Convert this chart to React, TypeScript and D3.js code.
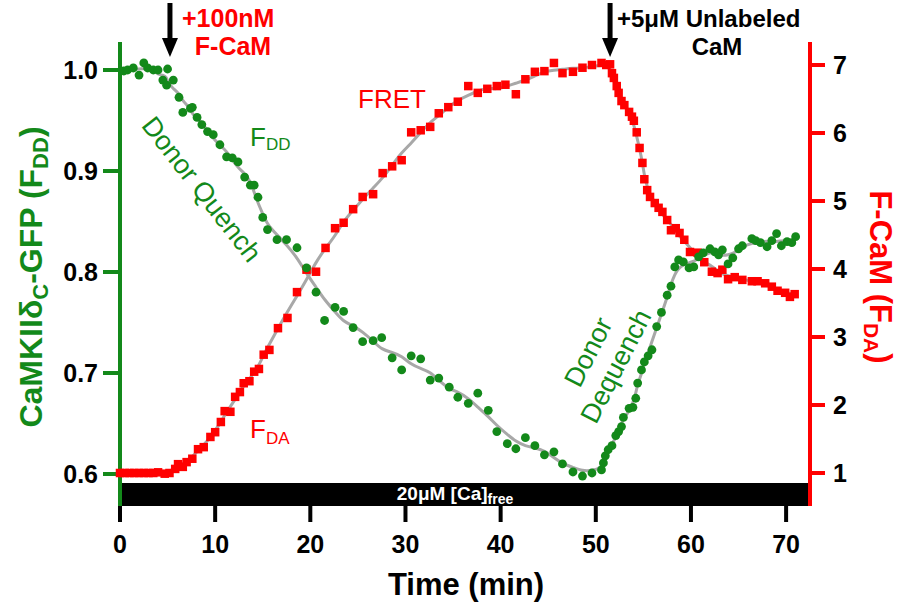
import React from "react";
import * as d3 from "d3";

// F_DD (donor, green circles): [time (min), normalised intensity]
const fddPoints: [number, number][] = [
  [0.4, 0.999], [0.8, 1.0], [1.4, 1.002], [2.0, 0.995], [2.5, 1.007], [2.9, 1.002],
  [3.5, 1.0], [4.0, 1.0], [4.5, 0.99], [4.9, 0.985], [5.0, 1.001], [5.6, 0.99],
  [6.2, 0.973], [6.6, 0.958], [7.4, 0.962], [7.6, 0.963], [8.1, 0.953], [8.6, 0.946],
  [9.2, 0.939], [9.8, 0.936], [10.5, 0.926], [11.2, 0.914], [11.8, 0.913], [12.4, 0.909],
  [13.1, 0.894], [13.7, 0.886], [14.1, 0.886], [14.5, 0.874], [15.0, 0.854], [15.5, 0.842],
  [16.5, 0.832], [17.5, 0.832], [18.6, 0.824], [19.6, 0.804], [20.6, 0.78], [21.5, 0.752],
  [22.6, 0.765], [23.5, 0.761], [24.5, 0.745], [25.5, 0.731], [26.6, 0.732], [27.5, 0.735],
  [28.6, 0.715], [29.6, 0.703], [30.6, 0.717], [31.6, 0.714], [32.6, 0.693], [33.5, 0.695],
  [34.6, 0.686], [35.5, 0.676], [36.6, 0.67], [37.6, 0.68], [38.7, 0.663], [39.6, 0.642],
  [40.7, 0.63], [41.6, 0.625], [42.6, 0.636], [43.6, 0.628], [44.6, 0.619], [45.6, 0.622],
  [46.5, 0.61], [47.6, 0.602], [48.6, 0.598], [49.6, 0.601], [50.6, 0.604], [50.8, 0.611],
  [51.0, 0.618], [51.3, 0.624], [51.7, 0.628], [52.1, 0.638], [52.4, 0.642], [52.7, 0.647],
  [52.9, 0.656], [53.5, 0.665], [53.9, 0.666], [54.2, 0.675], [54.4, 0.69], [54.8, 0.703],
  [55.1, 0.711], [55.5, 0.717], [55.9, 0.723], [56.4, 0.746], [56.9, 0.76], [57.5, 0.777],
  [57.9, 0.786], [58.3, 0.805], [58.7, 0.812], [59.2, 0.81], [59.8, 0.804], [60.3, 0.805],
  [60.8, 0.815], [61.3, 0.819], [62.0, 0.823], [62.5, 0.82], [62.9, 0.817], [63.3, 0.822],
  [63.9, 0.808], [64.4, 0.814], [65.0, 0.823], [65.4, 0.826], [66.4, 0.833], [66.8, 0.831],
  [67.3, 0.829], [68.0, 0.825], [68.5, 0.831], [69.0, 0.838], [69.5, 0.826], [70.1, 0.83],
  [70.6, 0.829], [71.0, 0.835],
];

// F_DA (FRET, red squares): [time (min), intensity]
const fdaPoints: [number, number][] = [
  [0, 1.0], [0.5, 1.0], [1, 1.0], [1.5, 1.0], [2, 1.0], [2.5, 1.0], [3, 1.0], [3.5, 1.0],
  [4, 1.01], [4.7, 0.99], [5.2, 1.0], [5.8, 1.06], [6.1, 1.13], [6.6, 1.09], [7.0, 1.16],
  [7.6, 1.21], [8.2, 1.35], [8.8, 1.38], [9.5, 1.53], [10.0, 1.6], [10.6, 1.75], [11.0, 1.91],
  [11.6, 1.9], [12.1, 2.12], [12.6, 2.19], [13.0, 2.32], [13.6, 2.35], [14.1, 2.49], [14.6, 2.53],
  [15.1, 2.74], [15.7, 2.81], [16.6, 3.13], [17.6, 3.28], [18.6, 3.66], [19.6, 3.99], [20.6, 3.96],
  [21.6, 4.31], [22.6, 4.6], [23.5, 4.68], [24.5, 4.88], [25.5, 5.06], [26.6, 5.1], [27.6, 5.41],
  [28.6, 5.51], [29.6, 5.6], [30.6, 6.01], [31.6, 6.04], [32.6, 6.09], [33.5, 6.29], [34.5, 6.38],
  [35.5, 6.46], [36.6, 6.69], [37.6, 6.59], [38.6, 6.65], [39.6, 6.69], [40.5, 6.71], [41.6, 6.57],
  [42.6, 6.79], [43.6, 6.9], [44.6, 6.91], [45.6, 7.03], [46.5, 6.88], [47.6, 6.9], [48.6, 6.96],
  [49.6, 7.0], [50.6, 7.03], [51.1, 7.0], [51.5, 7.01], [51.7, 6.88], [51.9, 6.81], [52.2, 6.69],
  [52.4, 6.59], [52.7, 6.47], [53.0, 6.41], [53.5, 6.31], [53.8, 6.24], [54.0, 6.18], [54.3, 6.01],
  [54.6, 5.78], [54.9, 5.56], [55.1, 5.32], [55.4, 5.16], [55.7, 5.06], [56.2, 4.97], [56.6, 4.9],
  [57.0, 4.84], [57.5, 4.72], [57.9, 4.57], [58.4, 4.6], [58.8, 4.53], [59.3, 4.43], [59.9, 4.25],
  [60.7, 4.24], [61.4, 4.1], [62.2, 3.96], [62.8, 3.94], [63.3, 3.99], [63.9, 3.85], [64.6, 3.88],
  [65.4, 3.84], [66.4, 3.82], [67.0, 3.82], [67.8, 3.79], [68.5, 3.74], [69.1, 3.68], [69.9, 3.65],
  [70.4, 3.59], [70.9, 3.63],
];

const xTicks = [0, 10, 20, 30, 40, 50, 60, 70];
const leftTicks = [0.6, 0.7, 0.8, 0.9, 1.0];
const rightTicks = [1, 2, 3, 4, 5, 6, 7];
// arrows: time of addition + label lines
const additions = [
  { t: 5.25, lines: ["+100nM", "F-CaM"] },
  { t: 51.5, lines: ["+5μM Unlabeled", "CaM"] },
];

const GREEN = "#13891a";
const RED = "#ff0000";
const GRAY = "#a8a8a8";
const FONT = "'Liberation Sans', Arial, sans-serif";

// centred running mean, used only for the grey guide line
function smooth(pts: [number, number][], k: number): [number, number][] {
  return pts.map((p, i) => {
    const lo = Math.max(0, i - k);
    const hi = Math.min(pts.length - 1, i + k);
    const slice = pts.slice(lo, hi + 1);
    return [p[0], d3.mean(slice, (d) => d[1]) as number];
  });
}

export default function App() {
  const top = 42;
  const bottom = 506;
  const x = d3.scaleLinear().domain([0, 72.3]).range([120, 808]);
  const yL = d3.scaleLinear().domain([0.6, 1.0]).range([474, 70]);
  const yR = d3.scaleLinear().domain([1, 7]).range([473, 65]);

  const lineL = d3.line<[number, number]>().x((d) => x(d[0])).y((d) => yL(d[1])).curve(d3.curveBasis);
  const lineR = d3.line<[number, number]>().x((d) => x(d[0])).y((d) => yR(d[1])).curve(d3.curveBasis);

  const xLeft = x(0);
  const xRight = x(72.3);

  return (
    <svg width={897} height={609} style={{ position: "absolute", left: 0, top: 0, background: "#fff" }} fontFamily={FONT}>
      {/* calcium bar */}
      <rect x={xLeft} y={483} width={xRight - xLeft} height={bottom - 483} fill="#000" />
      <text x={455} y={500} fill="#fff" fontSize={19} fontWeight="bold" textAnchor="middle">
        20μM [Ca]<tspan fontSize={14} dy={4}>free</tspan>
      </text>

      {/* x ticks */}
      {xTicks.map((t) => (
        <g key={t}>
          <line x1={x(t)} x2={x(t)} y1={bottom} y2={522} stroke="#000" strokeWidth={4} />
          <text x={x(t)} y={553} fontSize={25} fontWeight="bold" textAnchor="middle">{t}</text>
        </g>
      ))}
      <text x={466} y={595} fontSize={31} fontWeight="bold" textAnchor="middle">Time (min)</text>

      {/* left axis */}
      <line x1={xLeft} x2={xLeft} y1={top} y2={bottom} stroke={GREEN} strokeWidth={4} />
      {leftTicks.map((v) => (
        <g key={v}>
          <line x1={103} x2={xLeft} y1={yL(v)} y2={yL(v)} stroke={GREEN} strokeWidth={4} />
          <text x={98} y={yL(v)} dy="0.35em" fontSize={25} fontWeight="bold" textAnchor="end">{v.toFixed(1)}</text>
        </g>
      ))}
      <text transform="translate(42,277) rotate(-90)" fontSize={32} fontWeight="bold" fill={GREEN} textAnchor="middle">
        CaMKIIδ<tspan fontSize={22} dy={6}>C</tspan><tspan dy={-6}>-GFP (F</tspan><tspan fontSize={22} dy={6}>DD</tspan><tspan dy={-6}>)</tspan>
      </text>

      {/* right axis */}
      <line x1={xRight + 2} x2={xRight + 2} y1={top} y2={bottom} stroke={RED} strokeWidth={4} />
      {rightTicks.map((v) => (
        <g key={v}>
          <line x1={xRight + 2} x2={825} y1={yR(v)} y2={yR(v)} stroke={RED} strokeWidth={4} />
          <text x={833} y={yR(v)} dy="0.35em" fontSize={25} fontWeight="bold">{v}</text>
        </g>
      ))}
      <text transform="translate(870,277) rotate(90)" fontSize={31} fontWeight="bold" fill={RED} textAnchor="middle">
        F-CaM (F<tspan fontSize={21} dy={6}>DA</tspan><tspan dy={-6}>)</tspan>
      </text>

      {/* grey guide curves */}
      <path d={lineL(smooth(fddPoints, 2)) || ""} fill="none" stroke={GRAY} strokeWidth={3} />
      <path d={lineR(smooth(fdaPoints, 2)) || ""} fill="none" stroke={GRAY} strokeWidth={3} />

      {/* markers */}
      {fdaPoints.map((d, i) => (
        <rect key={"r" + i} x={x(d[0]) - 4.25} y={yR(d[1]) - 4.25} width={8.5} height={8.5} fill={RED} />
      ))}
      {fddPoints.map((d, i) => (
        <circle key={"g" + i} cx={x(d[0])} cy={yL(d[1])} r={4.4} fill={GREEN} />
      ))}

      {/* additions */}
      {additions.map((a, i) => {
        const ax = x(a.t);
        return (
          <g key={i}>
            <line x1={ax} x2={ax} y1={3} y2={42} stroke="#000" strokeWidth={5} />
            <polygon points={`${ax - 8},38 ${ax + 8},38 ${ax},57`} fill="#000" />
          </g>
        );
      })}
      <text x={182} y={27} fontSize={25} fontWeight="bold" fill={RED}>{additions[0].lines[0]}</text>
      <text x={233} y={55} fontSize={25} fontWeight="bold" fill={RED} textAnchor="middle">{additions[0].lines[1]}</text>
      <text x={617} y={27} fontSize={24} fontWeight="bold" fill="#000">{additions[1].lines[0]}</text>
      <text x={717} y={55} fontSize={24} fontWeight="bold" fill="#000" textAnchor="middle">{additions[1].lines[1]}</text>

      {/* series labels */}
      <text x={358} y={108} fontSize={26} fill={RED}>FRET</text>
      <text x={250} y={146} fontSize={26} fill={GREEN}>F<tspan fontSize={17} dy={4}>DD</tspan></text>
      <text x={250} y={438} fontSize={26} fill={RED}>F<tspan fontSize={17} dy={6}>DA</tspan></text>
      <text transform="translate(202,189) rotate(52)" fontSize={27} fill={GREEN} textAnchor="middle">
        <tspan dy="0.35em">Donor Quench</tspan>
      </text>
      <text transform="translate(588,352) rotate(-63)" fontSize={27} fill={GREEN} textAnchor="middle">
        <tspan x={0} dy="0.35em">Donor</tspan>
        <tspan x={0} dy={31}>Dequench</tspan>
      </text>
    </svg>
  );
}
